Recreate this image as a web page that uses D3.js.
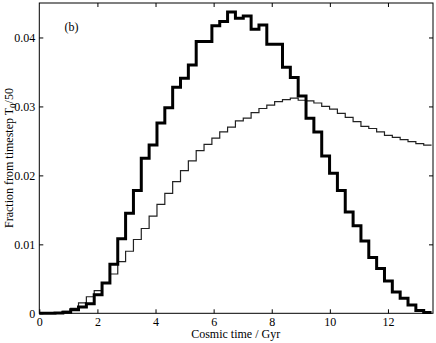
<!DOCTYPE html>
<html>
<head>
<meta charset="utf-8">
<script src="https://cdn.jsdelivr.net/npm/d3@7"></script>
<style>
  body { margin: 0; background: #fff; }
  svg { display: block; font-family: "Liberation Serif", "DejaVu Serif", serif; }
</style>
</head>
<body>
<div id="chart"></div>
<script>
// cosmic age and histogram bin width (T0/50)
var T0 = 13.5
var nBins = 50

// fraction per bin, thick curve
var thick = [
  0, 0, 0.00003, 0.00015, 0.0005, 0.0009, 0.0014, 0.0027, 0.0044, 0.0071,
  0.0108, 0.0145, 0.0178, 0.0225, 0.0244, 0.0276, 0.0298, 0.0328, 0.0341, 0.0360,
  0.0394, 0.0394, 0.0417, 0.0423, 0.0437, 0.0428, 0.0431, 0.0412, 0.0418, 0.0390,
  0.0390, 0.0357, 0.0342, 0.0315, 0.0283, 0.0263, 0.0228, 0.0203, 0.0178, 0.0147,
  0.0127, 0.0105, 0.0081, 0.0065, 0.0047, 0.0031, 0.0022, 0.0012, 0.0004, 0.0001
]

// fraction per bin, thin curve
var thin = [
  0, 0.00002, 0.0001, 0.0003, 0.0007, 0.0015, 0.0024, 0.0033, 0.0044, 0.0057,
  0.0075, 0.0090, 0.0107, 0.0123, 0.0141, 0.0158, 0.0174, 0.0191, 0.0207, 0.0221,
  0.0236, 0.0245, 0.0254, 0.0263, 0.0270, 0.0279, 0.0283, 0.0291, 0.0297, 0.0302,
  0.0307, 0.0310, 0.0312, 0.0309, 0.0308, 0.0305, 0.0300, 0.0296, 0.0290, 0.0284,
  0.0278, 0.0271, 0.0268, 0.0263, 0.0258, 0.0255, 0.0252, 0.0249, 0.0246, 0.0244
]

var xTicks = [0, 2, 4, 6, 8, 10, 12]
var yTicks = [0, 0.01, 0.02, 0.03, 0.04]
var yTickLabels = ['0', '0.01', '0.02', '0.03', '0.04']

draw_chart()

function draw_chart () {
  var width = 436
  var height = 343
  var mLeft = 39.3
  var mRight = 433
  var mTop = 3
  var mBottom = 313.3
  var fs = '12px'

  var svg = d3.select('#chart').append('svg')
    .attr('width', width)
    .attr('height', height)

  var x = d3.scaleLinear().domain([0, 13.55]).range([mLeft, mRight])
  var y = d3.scaleLinear().domain([0, 0.045]).range([mBottom, mTop])

  var binW = T0 / nBins

  function steps (vals) {
    var pts = vals.map(function (v, i) { return [i * binW, v] })
    pts.push([nBins * binW, vals[vals.length - 1]])
    return pts
  }

  var line = d3.line()
    .x(function (d) { return x(d[0]) })
    .y(function (d) { return y(d[1]) })
    .curve(d3.curveStepAfter)

  svg.append('path')
    .attr('d', line(steps(thin)))
    .attr('fill', 'none')
    .attr('stroke', '#222')
    .attr('stroke-width', 1.2)

  svg.append('path')
    .attr('d', line(steps(thick)))
    .attr('fill', 'none')
    .attr('stroke', '#000')
    .attr('stroke-width', 3)

  // frame
  svg.append('rect')
    .attr('x', mLeft)
    .attr('y', mTop)
    .attr('width', mRight - mLeft)
    .attr('height', mBottom - mTop)
    .attr('fill', 'none')
    .attr('stroke', '#000')
    .attr('stroke-width', 1)

  // ticks inside, mirrored on all sides
  var tl = 4
  var axB = d3.axisBottom(x).tickValues(xTicks).tickSizeInner(-tl).tickSizeOuter(0)
    .tickPadding(4.5).tickFormat(d3.format('d'))
  var gB = svg.append('g').attr('transform', 'translate(0,' + mBottom + ')').call(axB)

  var axT = d3.axisTop(x).tickValues(xTicks.slice(1)).tickSizeInner(-tl).tickSizeOuter(0).tickFormat('')
  var gT = svg.append('g').attr('transform', 'translate(0,' + mTop + ')').call(axT)

  var axL = d3.axisLeft(y).tickValues(yTicks).tickSizeInner(-tl).tickSizeOuter(0)
    .tickPadding(4).tickFormat(function (d, i) { return yTickLabels[i] })
  var gL = svg.append('g').attr('transform', 'translate(' + mLeft + ',0)').call(axL)

  var axR = d3.axisRight(y).tickValues(yTicks.slice(1)).tickSizeInner(-tl).tickSizeOuter(0).tickFormat('')
  var gR = svg.append('g').attr('transform', 'translate(' + mRight + ',0)').call(axR)

  ;[gB, gT, gL, gR].forEach(function (g) {
    g.select('.domain').remove()
    g.selectAll('line').attr('stroke', '#000')
    g.selectAll('text')
      .attr('fill', '#000')
      .style('font-family', '"Liberation Serif", serif')
      .style('font-size', fs)
  })

  // labels
  svg.append('text')
    .attr('x', (mLeft + mRight) / 2 - 0.5)
    .attr('y', 338)
    .attr('text-anchor', 'middle')
    .style('font-size', fs)
    .text('Cosmic time / Gyr')

  var yl = svg.append('text')
    .attr('transform', 'translate(12.5,158) rotate(-90)')
    .attr('text-anchor', 'middle')
    .style('font-size', fs)
  yl.append('tspan').text('Fraction from timestep T')
  yl.append('tspan').attr('dy', 3).style('font-size', '9px').text('0')
  yl.append('tspan').attr('dy', -3).text('/50')

  svg.append('text')
    .attr('x', 64.5)
    .attr('y', 31)
    .style('font-size', fs)
    .text('(b)')
}
</script>
</body>
</html>
